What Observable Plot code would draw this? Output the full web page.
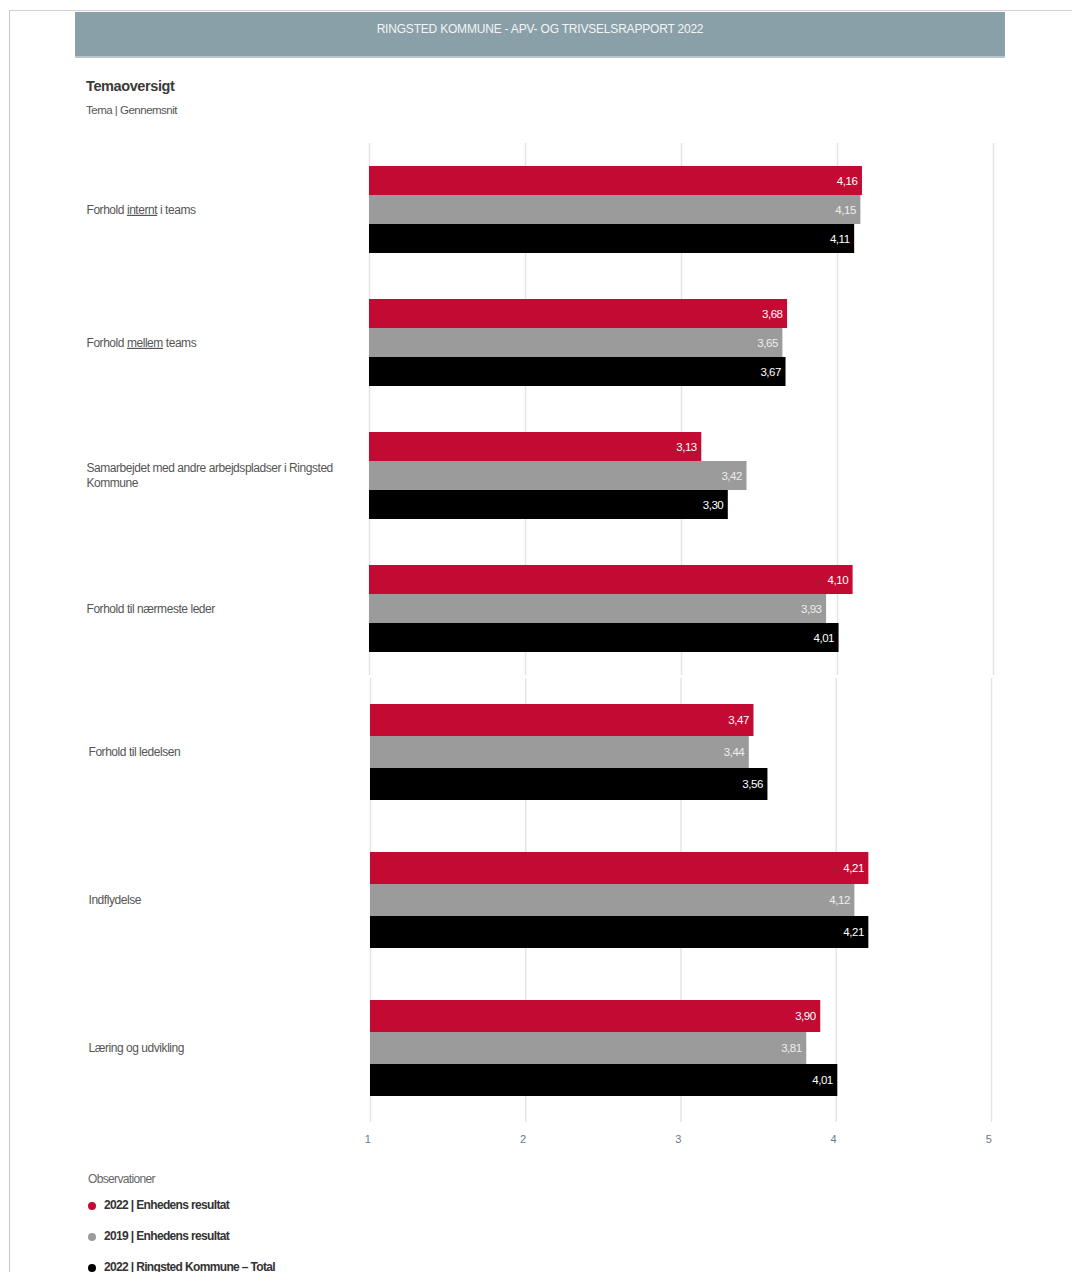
<!DOCTYPE html>
<html>
<head>
<meta charset="utf-8">
<script src="https://cdn.jsdelivr.net/npm/d3@7"></script>
<script src="https://cdn.jsdelivr.net/npm/@observablehq/plot@0.6"></script>
<style>
  html, body { margin: 0; padding: 0; background: #fff; }
  body { width: 1072px; height: 1272px; position: relative; overflow: hidden;
         font-family: "Liberation Sans", Arial, sans-serif; }
  .frame-left { position: absolute; left: 9px; top: 10px; width: 1px; height: 1262px; background: #c8c8c8; }
  .frame-top { position: absolute; left: 9px; top: 10px; width: 1063px; height: 1px; background: #d0d0d0; }
  .header { position: absolute; left: 75px; top: 12px; width: 930px; height: 44px; background: #89a0a9;
            border-bottom: 2px solid #b9c6cb; color: #f4f4f4; font-size: 12px; text-align: center; line-height: 34px;
            letter-spacing: -0.2px; }
  .title { position: absolute; left: 86px; top: 78px; font-size: 14.5px; font-weight: bold; color: #3a3a3a; letter-spacing: -0.4px; }
  .subtitle { position: absolute; left: 86px; top: 104px; font-size: 11.5px; color: #555; letter-spacing: -0.5px; }
  .chart { position: absolute; left: 0; }
  .chart svg text { letter-spacing: -0.45px; }
  .legend { position: absolute; left: 88px; top: 1172px; font-size: 12px; letter-spacing: -0.65px; }
  .legend .head { color: #666; margin-bottom: 12px; }
  .legend .item { color: #333; font-weight: bold; height: 31px; display: flex; align-items: flex-start; }
  .legend .dot { width: 8px; height: 8px; border-radius: 50%; display: inline-block; margin: 4px 8px 0 0; }
</style>
</head>
<body>
<div class="frame-left"></div>
<div class="frame-top"></div>
<div class="header">RINGSTED KOMMUNE - APV- OG TRIVSELSRAPPORT 2022</div>
<div class="title">Temaoversigt</div>
<div class="subtitle">Tema | Gennemsnit</div>
<div id="chartA" class="chart" style="top:130px"></div>
<div id="chartB" class="chart" style="top:668px"></div>
<div id="legend" class="legend"></div>
<script>
// ---- data ----
const categories = [
  "Forhold internt i teams",
  "Forhold mellem teams",
  "Samarbejdet med andre arbejdspladser i Ringsted Kommune",
  "Forhold til nærmeste leder",
  "Forhold til ledelsen",
  "Indflydelse",
  "Læring og udvikling"
];
const seriesNames = ["2022 | Enhedens resultat", "2019 | Enhedens resultat", "2022 | Ringsted Kommune – Total"];
const seriesColors = ["#c20a32", "#9b9b9b", "#000000"];
const values2022 = [4.16, 3.68, 3.13, 4.10, 3.47, 4.21, 3.90];
const values2019 = [4.15, 3.65, 3.42, 3.93, 3.44, 4.12, 3.81];
const valuesTotal = [4.11, 3.67, 3.30, 4.01, 3.56, 4.21, 4.01];
const xTicks = [1, 2, 3, 4, 5];

const seriesValues = [values2022, values2019, valuesTotal];
const rows = categories.flatMap((c, i) => seriesNames.map((s, j) => ({cat: c, series: s, value: seriesValues[j][i]})));
const fmt = v => v.toFixed(2).replace(".", ",");
const font = '"Liberation Sans", Arial, sans-serif';

function makeChart(cats, opts) {
  const data = rows.filter(r => cats.includes(r.cat));
  return Plot.plot({
    width: 1072,
    height: opts.height,
    marginLeft: opts.left,
    marginRight: opts.right,
    marginTop: opts.top,
    marginBottom: opts.bottom,
    style: {fontFamily: font, fontSize: "11px", color: "#6a7480"},
    x: {domain: [1, 5], ticks: xTicks, label: null, axis: null},
    fy: {domain: cats, padding: 0, axis: null},
    y: {domain: seriesNames, paddingInner: 0, paddingOuter: opts.pad, axis: null},
    color: {domain: seriesNames, range: seriesColors},
    marks: [
      Plot.gridX(xTicks, {stroke: "#e4e4e6", strokeOpacity: 1, strokeWidth: 1.5}),
      opts.axis ? Plot.axisX(xTicks, {tickFormat: d3.format("d"), tickSize: 0, tickPadding: 13, dx: -3,
                                      fill: "#6a7a8a", fontSize: 11, label: null}) : null,
      Plot.barX(data, {fy: "cat", y: "series", x1: 1, x2: "value", fill: "series"}),
      Plot.text(data, {fy: "cat", y: "series", x: "value", text: d => fmt(d.value), textAnchor: "end", dx: -5,
                       fill: d => d.series === seriesNames[1] ? "#eeeeee" : "#ffffff", fontSize: 11.5, fontFamily: font}),
      Plot.text(cats, {fy: d => d, frameAnchor: "left", dx: opts.labelDx, dy: -1, textAnchor: "start", text: d => d,
                       lineWidth: 25, lineHeight: 1.25, fill: "#555", fontSize: 12, fontFamily: font})
    ]
  });
}

const chartA = makeChart(categories.slice(0, 4), {height: 546, left: 369, right: 79, top: 12, bottom: 0, pad: 0.747, axis: false, labelDx: -283});
const chartB = makeChart(categories.slice(4), {height: 485, left: 370, right: 81, top: 9, bottom: 30, pad: 0.77, axis: true, labelDx: -282});
document.getElementById("chartA").appendChild(chartA);
document.getElementById("chartB").appendChild(chartB);

// underline emphasised words in category labels
const underline = {"Forhold internt i teams": "internt", "Forhold mellem teams": "mellem"};
[chartA, chartB].forEach(svg => {
  svg.querySelectorAll("text").forEach(t => {
    const w = underline[t.textContent];
    if (w) {
      const [a, b] = t.textContent.split(w);
      t.innerHTML = `${a}<tspan text-decoration="underline" style="text-decoration-color:#7a8fa0">${w}</tspan>${b}`;
    }
  });
});

// legend
const legend = document.getElementById("legend");
legend.innerHTML = `<div class="head">Observationer</div>` +
  seriesNames.map((s, i) => `<div class="item"><span class="dot" style="background:${seriesColors[i]}"></span>${s}</div>`).join("");
</script>
</body>
</html>
